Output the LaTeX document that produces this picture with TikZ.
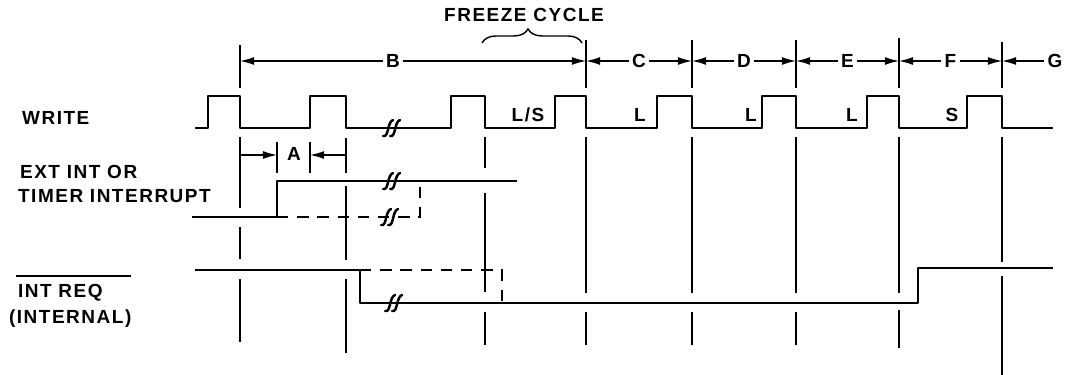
\documentclass[tikz,border=0pt]{standalone}
\usepackage{fontspec}
\setmainfont{Liberation Sans}[LetterSpace=8]
\usepackage{tikz}
\usetikzlibrary{arrows.meta, decorations.pathreplacing, calc}

\begin{document}
\begin{tikzpicture}[x=0.02cm, y=-0.02cm,
  every node/.style={font=\fontsize{10.8}{13}\selectfont\bfseries, inner sep=1pt},
  wave/.style={line width=1.5pt, line join=round},
  dashwave/.style={line width=1.5pt, dash pattern=on 6.5pt off 5pt},
  guide/.style={line width=0.8pt},
  dimline/.style={line width=0.7pt, {Latex[length=8pt,width=4.5pt]}-{Latex[length=8pt,width=4.5pt]}},
  dimhead/.style={line width=0.7pt, -{Latex[length=8pt,width=4.5pt]}},
  lbl/.style={fill=white, inner sep=2pt},
  brk/.pic={
    \draw[line width=1.4pt, line cap=round] (-10,8) .. controls (-4,10) and (-6,-6) .. (0,-8);
    \draw[line width=1.4pt, line cap=round] (-3,8) .. controls (3,10) and (1,-6) .. (7,-8);
  }
]
  \useasboundingbox (0,0) rectangle (1068,375);

  % signal names
  \node[anchor=base west] (lwrite) at (20,125)  {WRITE};
  \node[anchor=base west] (lext)   at (18,178)  {EXT INT OR};
  \node[anchor=base west] (ltimer) at (16,202)  {TIMER INTERRUPT};
  \node[anchor=base west] (lreq)   at (16,297)  {INT REQ};
  \node[anchor=base west] (lint)   at (7,323)   {(INTERNAL)};
  \draw[guide] (16,276) -- (131,276);

  % cycle boundaries
  \foreach \x/\ya/\yb in {240/45/88, 240/137/208, 240/227/259, 240/279/342,
                         346/138/173, 346/186/260, 346/279/353,
                         485/137/168, 485/193/292, 485/312/345,
                         586/40/88, 586/137/293, 586/312/345,
                         692/40/88, 692/137/293, 692/312/345,
                         796/40/88, 796/137/293, 796/312/345,
                         899/38/88, 899/137/293, 899/310/348,
                         1002/42/88, 1002/137/262, 1002/276/375,
                         277/142/173, 310/142/173}
    \draw[guide] (\x,\ya) -- (\x,\yb);

  \coordinate (m0) at (240,61);
  \coordinate (m1) at (586,61);
  \coordinate (m2) at (692,61);
  \coordinate (m3) at (796,61);
  \coordinate (m4) at (899,61);
  \coordinate (m5) at (1002,61);
  \coordinate (m6) at (1044,61);

  \draw[dimline] (m0) -- node[lbl, pos=0.442] (lb) {B} (m1);
  \draw[dimline] (m1) -- node[lbl] (lc) {C} (m2);
  \draw[dimline] (m2) -- node[lbl] (ld) {D} (m3);
  \draw[dimline] (m3) -- node[lbl] (le) {E} (m4);
  \draw[dimline] (m4) -- node[lbl] (lf) {F} (m5);
  \draw[dimhead] (m6) -- (m5);
  \node (lg) at (1055,61) {G};

  % freeze cycle
  \node[anchor=base] (lfreeze) at (524,22) {FREEZE CYCLE};
  \draw[line width=0.8pt, decorate, decoration={brace, amplitude=8pt, aspect=0.46}]
    (482,43) -- (582,43);

  % write
  \draw[wave] (195,128)
    \foreach \r/\f in {208/240, 310/346, 451/485, 555/586, 657/692, 762/796, 867/899, 967/1002} {
      -- (\r,128) -- (\r,96) -- (\f,96) -- (\f,128)
    } -- (1053,128);
  \pic at (393,128) {brk};

  \node[anchor=base] (lls) at (528,122) {L/S};
  \node[anchor=base] (ll1) at (640,121) {L};
  \node[anchor=base] (ll2) at (751,121) {L};
  \node[anchor=base] (ll3) at (852,121) {L};
  \node[anchor=base] (ls)  at (952,121) {S};

  % A
  \coordinate (a0) at (240,155);
  \coordinate (a1) at (277,155);
  \coordinate (a2) at (310,155);
  \coordinate (a3) at (346,155);
  \draw[dimhead] (a0) -- (a1);
  \draw[dimhead] (a3) -- (a2);
  \node[anchor=base] (la) at (294,160) {A};

  % ext int
  \draw[wave] (192,217) -- (277,217) -- (277,181) -- (517,181);
  \draw[dashwave] (277,217) -- (420,217) -- (420,187);
  \pic at (393,181) {brk};
  \pic at (391,217) {brk};

  % int req
  \draw[wave] (195,270) -- (360,270) -- (360,303) -- (918,303) -- (918,268) -- (1053,268);
  \draw[dashwave] (360,270) -- (502,270) -- (502,303);
  \pic at (395,303) {brk};
\end{tikzpicture}
\end{document}
